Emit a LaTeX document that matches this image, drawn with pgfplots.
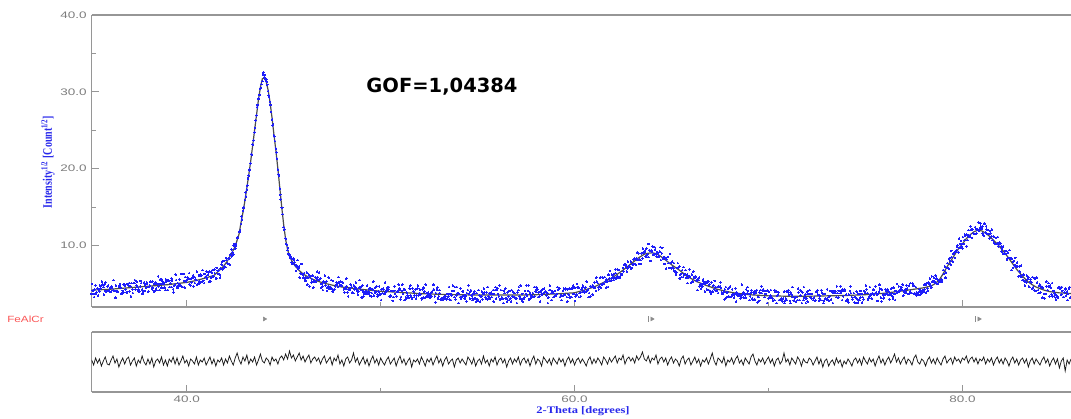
\documentclass[border=0pt]{standalone}
\usepackage{pgfplots}
\pgfplotsset{compat=1.18}
\usepackage{fontspec}
\setmainfont{Liberation Serif}
\newfontfamily\arial{Liberation Sans}
\newfontfamily\dejavu{DejaVu Sans}
\definecolor{dotblue}{RGB}{30,30,250}
\definecolor{axgray}{RGB}{150,150,150}
\definecolor{tickgray}{RGB}{125,125,125}
\definecolor{lblblue}{RGB}{40,40,235}
\definecolor{fered}{RGB}{250,85,85}
\pgfplotsset{
  xrdbase/.style={
    scale only axis, width=979.3pt,
    xmin=35.1, xmax=85.6,
    axis x line*=box, axis y line*=left,
    axis line style={axgray, line width=1.1pt},
    tick style={axgray, line width=0.9pt},
    tick align=inside, xtick pos=left, ytick pos=left,
    major tick length=7pt, minor tick length=4.5pt,
    xtick={40,60,80}, minor xtick={50,70},
    ticklabel style={font=\arial\fontsize{9.5}{11}\selectfont, text=tickgray, xscale=1.42},
    /pgf/number format/fixed, /pgf/number format/zerofill,
    /pgf/number format/precision=1, /pgf/number format/assume math mode=true,
  },
  dots/.style={color=dotblue, only marks, mark=*, mark size=0.8pt, mark options={solid, draw=dotblue, fill=dotblue, line width=0pt}},
}
\begin{document}
\begin{tikzpicture}
\path[use as bounding box] (0pt,0pt) rectangle (1071pt,-419pt);
\begin{axis}[xrdbase,
  at={(91.7pt,-15pt)}, anchor=north west, height=292pt,
  ymin=2, ymax=40, clip=false,
  xticklabel=\empty,
  ytick={10,20,30,40}, minor ytick={15,25,35},
]
% observed points (offset set)
\addplot[dots] table {
35.125 5.0
35.225 3.3
35.325 3.7
35.425 3.5
35.525 4.8
35.625 5.3
35.725 3.6
35.825 5.2
35.925 4.7
36.025 4.0
36.125 4.7
36.225 5.5
36.325 3.2
36.425 4.0
36.525 4.8
36.625 3.7
36.725 3.9
36.825 4.8
36.925 3.9
37.025 5.1
37.125 3.4
37.225 3.8
37.325 5.5
37.425 5.3
37.525 4.3
37.625 5.4
37.725 3.7
37.825 4.1
37.925 5.0
38.025 4.0
38.125 5.3
38.225 5.3
38.325 4.0
38.425 4.4
38.525 6.0
38.625 5.6
38.725 5.6
38.825 5.2
38.925 5.6
39.025 4.2
39.125 4.6
39.225 5.7
39.325 3.9
39.425 6.2
39.525 4.5
39.625 5.6
39.725 6.3
39.825 6.3
39.925 5.9
40.025 5.6
40.125 6.4
40.225 5.7
40.325 6.1
40.425 5.1
40.525 6.6
40.625 6.1
40.725 6.2
40.825 6.8
40.925 6.3
41.025 6.6
41.125 6.5
41.225 5.3
41.325 6.8
41.425 6.9
41.525 5.7
41.625 6.3
41.725 5.8
41.825 7.9
41.925 8.0
42.025 8.4
42.125 7.6
42.225 7.5
42.325 8.6
42.425 10.0
42.525 9.9
42.625 11.1
42.725 11.8
42.825 13.8
42.925 14.9
43.025 16.9
43.125 17.8
43.225 19.9
43.325 21.9
43.425 23.1
43.525 25.3
43.625 28.0
43.725 29.1
43.825 30.5
43.925 32.2
44.025 32.2
44.125 31.3
44.225 29.5
44.325 28.3
44.425 25.6
44.525 24.2
44.625 22.1
44.725 19.3
44.825 16.6
44.925 14.9
45.025 12.1
45.125 10.2
45.225 9.7
45.325 8.4
45.425 8.3
45.525 8.2
45.625 6.7
45.725 8.1
45.825 5.8
45.925 7.6
46.025 5.8
46.125 5.4
46.225 4.9
46.325 4.7
46.425 5.2
46.525 4.5
46.625 5.9
46.725 6.6
46.825 6.5
46.925 4.5
47.025 4.2
47.125 6.1
47.225 4.1
47.325 5.8
47.425 4.6
47.525 4.0
47.625 4.3
47.725 5.2
47.825 5.9
47.925 5.3
48.025 5.2
48.125 3.9
48.225 5.7
48.325 3.4
48.425 4.2
48.525 3.9
48.625 4.8
48.725 5.2
48.825 3.6
48.925 5.5
49.025 3.2
49.125 3.4
49.225 3.7
49.325 3.7
49.425 3.9
49.525 3.4
49.625 5.3
49.725 4.5
49.825 3.4
49.925 4.7
50.025 2.9
50.125 4.4
50.225 5.2
50.325 4.4
50.425 4.6
50.525 3.5
50.625 2.8
50.725 4.7
50.825 3.4
50.925 4.9
51.025 3.0
51.125 4.9
51.225 2.9
51.325 3.1
51.425 3.3
51.525 4.8
51.625 3.1
51.725 3.3
51.825 3.1
51.925 4.8
52.025 4.3
52.125 3.0
52.225 4.5
52.325 4.9
52.425 3.4
52.525 3.2
52.625 3.4
52.725 4.9
52.825 2.6
52.925 4.5
53.025 4.2
53.125 3.1
53.225 2.9
53.325 3.1
53.425 3.1
53.525 4.6
53.625 2.9
53.725 4.8
53.825 4.6
53.925 4.6
54.025 2.5
54.125 4.4
54.225 4.0
54.325 3.1
54.425 2.7
54.525 4.8
54.625 4.0
54.725 2.9
54.825 4.0
54.925 2.7
55.025 2.8
55.125 2.7
55.225 4.0
55.325 4.4
55.425 3.1
55.525 4.6
55.625 3.1
55.725 3.3
55.825 2.7
55.925 4.6
56.025 4.4
56.125 4.8
56.225 3.1
56.325 2.5
56.425 4.4
56.525 2.7
56.625 2.9
56.725 2.7
56.825 4.0
56.925 3.3
57.025 2.5
57.125 4.6
57.225 4.8
57.325 2.7
57.425 3.3
57.525 4.8
57.625 4.8
57.725 3.1
57.825 3.3
57.925 4.6
58.025 4.6
58.125 3.3
58.225 2.7
58.325 4.2
58.425 4.4
58.525 4.0
58.625 2.5
58.725 4.8
58.825 2.9
58.925 3.3
59.025 3.5
59.125 4.6
59.225 4.4
59.325 2.9
59.425 3.5
59.525 4.4
59.625 2.7
59.725 4.4
59.825 4.4
59.925 4.8
60.025 2.8
60.125 5.0
60.225 3.3
60.325 3.4
60.425 4.8
60.525 3.9
60.625 5.3
60.725 3.3
60.825 3.4
60.925 3.6
61.025 5.2
61.125 5.8
61.225 4.6
61.325 5.8
61.425 5.9
61.525 5.0
61.625 4.5
61.725 4.6
61.825 6.7
61.925 6.2
62.025 5.5
62.125 6.9
62.225 6.0
62.325 5.8
62.425 6.2
62.525 6.6
62.625 7.5
62.725 7.0
62.825 7.2
62.925 7.0
63.025 7.6
63.125 7.6
63.225 9.1
63.325 7.6
63.425 7.6
63.525 9.6
63.625 9.3
63.725 8.5
63.825 10.2
63.925 8.0
64.025 9.9
64.125 9.8
64.225 8.6
64.325 8.5
64.425 9.8
64.525 9.7
64.625 7.6
64.725 7.0
64.825 8.5
64.925 8.9
65.025 7.9
65.125 7.7
65.225 6.2
65.325 7.7
65.425 5.7
65.525 5.9
65.625 7.2
65.725 6.8
65.825 5.1
65.925 6.9
66.025 5.2
66.125 6.6
66.225 6.0
66.325 4.2
66.425 5.8
66.525 4.4
66.625 5.6
66.725 4.0
66.825 4.3
66.925 4.2
67.025 3.7
67.125 4.0
67.225 5.4
67.325 4.1
67.425 4.7
67.525 5.2
67.625 3.7
67.725 3.0
67.825 3.2
67.925 4.4
68.025 4.7
68.125 4.3
68.225 3.2
68.325 2.7
68.425 3.5
68.525 3.5
68.625 4.9
68.725 3.2
68.825 3.2
68.925 4.6
69.025 2.9
69.125 4.2
69.225 3.9
69.325 4.1
69.425 2.6
69.525 2.8
69.625 4.7
69.725 4.3
69.825 4.1
69.925 2.5
70.025 4.0
70.125 4.2
70.225 2.9
70.325 4.2
70.425 2.5
70.525 3.9
70.625 2.9
70.725 2.7
70.825 2.5
70.925 4.0
71.025 4.2
71.125 2.5
71.225 4.6
71.325 2.9
71.425 2.7
71.525 4.4
71.625 4.2
71.725 2.5
71.825 4.6
71.925 2.5
72.025 2.7
72.125 4.2
72.225 3.1
72.325 3.1
72.425 2.9
72.525 4.2
72.625 3.1
72.725 4.2
72.825 2.5
72.925 3.1
73.025 4.3
73.125 2.8
73.225 3.0
73.325 2.5
73.425 4.1
73.525 4.7
73.625 4.1
73.725 4.7
73.825 4.3
73.925 4.3
74.025 2.8
74.125 2.6
74.225 4.7
74.325 3.0
74.425 2.6
74.525 2.5
74.625 2.6
74.725 3.2
74.825 2.6
74.925 4.1
75.025 4.8
75.125 2.9
75.225 4.6
75.325 3.1
75.425 4.2
75.525 4.7
75.625 2.8
75.725 4.9
75.825 2.7
75.925 3.1
76.025 4.3
76.125 4.3
76.225 3.0
76.325 4.4
76.425 3.1
76.525 2.9
76.625 5.0
76.725 4.7
76.825 4.5
76.925 4.9
77.025 3.9
77.125 4.8
77.225 3.7
77.325 5.1
77.425 5.1
77.525 3.7
77.625 3.5
77.725 3.6
77.825 3.6
77.925 3.8
78.025 4.9
78.125 3.9
78.225 4.1
78.325 5.7
78.425 6.0
78.525 5.8
78.625 6.1
78.725 5.0
78.825 5.3
78.925 5.3
79.025 6.8
79.125 5.8
79.225 7.7
79.325 8.3
79.425 9.3
79.525 8.9
79.625 8.4
79.725 9.9
79.825 10.9
79.925 10.6
80.025 11.1
80.125 11.4
80.225 9.9
80.325 12.0
80.425 12.5
80.525 12.1
80.625 11.5
80.725 11.6
80.825 13.0
80.925 12.9
81.025 12.5
81.125 12.9
81.225 12.5
81.325 12.0
81.425 11.9
81.525 12.1
81.625 10.4
81.725 11.0
81.825 11.1
81.925 10.4
82.025 9.2
82.125 8.9
82.225 9.3
82.325 8.3
82.425 9.4
82.525 6.8
82.625 7.9
82.725 8.4
82.825 7.8
82.925 7.3
83.025 7.4
83.125 5.5
83.225 4.8
83.325 6.1
83.425 4.7
83.525 5.6
83.625 5.9
83.725 5.7
83.825 5.8
83.925 3.8
84.025 3.9
84.125 3.2
84.225 3.1
84.325 5.3
84.425 5.1
84.525 4.8
84.625 5.1
84.725 3.4
84.825 3.0
84.925 3.2
85.025 4.6
85.125 4.6
85.225 3.3
85.325 4.4
85.425 2.9
85.525 4.6
};
% observed points (main set)
\addplot[dots] table {
35.10 3.7
35.15 4.1
35.20 3.7
35.25 4.3
35.30 4.8
35.35 3.9
35.40 4.4
35.45 4.3
35.50 4.0
35.55 4.4
35.60 4.8
35.65 4.9
35.70 4.6
35.75 4.9
35.80 4.1
35.85 4.0
35.90 4.1
35.95 4.8
36.00 4.2
36.05 4.5
36.10 4.0
36.15 4.5
36.20 4.2
36.25 4.1
36.30 4.1
36.35 4.8
36.40 4.1
36.45 4.0
36.50 4.7
36.55 5.0
36.60 4.5
36.65 3.8
36.70 4.1
36.75 4.9
36.80 4.9
36.85 4.3
36.90 3.9
36.95 5.0
37.00 4.8
37.05 4.0
37.10 4.7
37.15 5.1
37.20 4.3
37.25 5.1
37.30 5.1
37.35 4.3
37.40 4.8
37.45 4.6
37.50 4.1
37.55 4.0
37.60 4.7
37.65 5.1
37.70 4.3
37.75 4.0
37.80 5.2
37.85 4.9
37.90 4.5
37.95 5.2
38.00 4.6
38.05 4.6
38.10 4.8
38.15 5.3
38.20 4.4
38.25 4.5
38.30 4.1
38.35 5.0
38.40 5.2
38.45 4.2
38.50 5.0
38.55 4.7
38.60 4.2
38.65 5.0
38.70 4.5
38.75 5.3
38.80 5.0
38.85 4.5
38.90 4.2
38.95 5.3
39.00 5.5
39.05 5.5
39.10 5.4
39.15 5.1
39.20 4.6
39.25 5.4
39.30 4.3
39.35 4.8
39.40 4.9
39.45 5.5
39.50 4.7
39.55 5.1
39.60 4.8
39.65 4.9
39.70 4.8
39.75 4.6
39.80 4.6
39.85 5.4
39.90 4.5
39.95 5.3
40.00 5.5
40.05 5.8
40.10 5.7
40.15 4.9
40.20 4.8
40.25 5.2
40.30 5.8
40.35 4.7
40.40 5.9
40.45 5.6
40.50 5.5
40.55 4.9
40.60 5.0
40.65 5.3
40.70 5.2
40.75 6.1
40.80 5.3
40.85 5.4
40.90 5.1
40.95 5.9
41.00 6.0
41.05 5.7
41.10 6.2
41.15 5.3
41.20 6.6
41.25 5.8
41.30 6.5
41.35 6.0
41.40 6.0
41.45 6.4
41.50 5.7
41.55 7.1
41.60 6.7
41.65 6.8
41.70 6.2
41.75 7.0
41.80 7.5
41.85 6.9
41.90 7.0
41.95 7.3
42.00 7.2
42.05 8.1
42.10 7.7
42.15 8.3
42.20 8.3
42.25 8.8
42.30 9.5
42.35 9.1
42.40 8.8
42.45 10.2
42.50 9.6
42.55 10.1
42.60 11.0
42.65 11.0
42.70 11.8
42.75 12.0
42.80 12.8
42.85 13.4
42.90 14.5
42.95 15.0
43.00 15.9
43.05 16.4
43.10 17.3
43.15 18.7
43.20 19.1
43.25 19.8
43.30 20.7
43.35 21.8
43.40 23.2
43.45 23.7
43.50 24.7
43.55 26.3
43.60 26.9
43.65 28.3
43.70 29.1
43.75 29.6
43.80 30.4
43.85 31.0
43.90 31.4
43.95 32.5
44.00 31.9
44.05 31.7
44.10 31.6
44.15 30.9
44.20 30.1
44.25 29.3
44.30 28.7
44.35 27.4
44.40 26.4
44.45 25.8
44.50 24.3
44.55 23.6
44.60 22.6
44.65 21.3
44.70 19.9
44.75 19.1
44.80 17.4
44.85 16.0
44.90 14.9
44.95 14.1
45.00 12.4
45.05 12.1
45.10 10.9
45.15 10.1
45.20 9.4
45.25 8.9
45.30 8.8
45.35 8.6
45.40 7.8
45.45 7.6
45.50 8.3
45.55 7.8
45.60 7.4
45.65 7.4
45.70 7.2
45.75 7.0
45.80 7.3
45.85 6.4
45.90 6.3
45.95 6.3
46.00 6.2
46.05 6.4
46.10 5.7
46.15 5.8
46.20 6.5
46.25 5.8
46.30 6.2
46.35 5.9
46.40 6.0
46.45 5.6
46.50 6.1
46.55 5.3
46.60 5.3
46.65 5.3
46.70 5.7
46.75 5.9
46.80 5.5
46.85 5.6
46.90 5.7
46.95 5.0
47.00 4.7
47.05 5.3
47.10 5.2
47.15 4.8
47.20 5.3
47.25 4.5
47.30 4.7
47.35 4.4
47.40 4.4
47.45 5.5
47.50 4.3
47.55 5.4
47.60 4.3
47.65 4.7
47.70 4.9
47.75 4.9
47.80 4.6
47.85 5.2
47.90 4.8
47.95 4.8
48.00 4.8
48.05 5.2
48.10 4.3
48.15 4.4
48.20 4.4
48.25 4.7
48.30 3.9
48.35 4.3
48.40 4.4
48.45 4.9
48.50 4.6
48.55 3.9
48.60 3.8
48.65 4.3
48.70 4.5
48.75 4.3
48.80 4.1
48.85 4.0
48.90 4.5
48.95 4.5
49.00 4.2
49.05 4.8
49.10 4.0
49.15 3.7
49.20 4.0
49.25 4.0
49.30 4.8
49.35 4.0
49.40 4.4
49.45 3.5
49.50 4.4
49.55 3.8
49.60 4.3
49.65 3.5
49.70 3.8
49.75 4.0
49.80 4.7
49.85 3.6
49.90 4.0
49.95 3.6
50.00 3.7
50.05 4.3
50.10 3.8
50.15 4.3
50.20 3.7
50.25 3.9
50.30 4.1
50.35 4.5
50.40 4.3
50.45 3.4
50.50 3.4
50.55 4.1
50.60 4.1
50.65 3.3
50.70 4.1
50.75 3.7
50.80 3.4
50.85 4.0
50.90 4.0
50.95 4.4
51.00 4.3
51.05 3.3
51.10 4.1
51.15 3.7
51.20 4.3
51.25 4.3
51.30 3.3
51.35 3.9
51.40 3.5
51.45 3.2
51.50 4.4
51.55 3.5
51.60 3.2
51.65 4.4
51.70 4.0
51.75 3.5
51.80 4.3
51.85 3.5
51.90 4.4
51.95 3.5
52.00 3.8
52.05 3.6
52.10 3.1
52.15 4.3
52.20 3.2
52.25 4.0
52.30 3.2
52.35 3.8
52.40 3.5
52.45 3.9
52.50 3.6
52.55 3.5
52.60 3.9
52.65 4.0
52.70 4.2
52.75 4.3
52.80 3.4
52.85 3.8
52.90 4.3
52.95 3.1
53.00 3.4
53.05 3.8
53.10 3.0
53.15 3.0
53.20 3.1
53.25 3.1
53.30 3.4
53.35 3.4
53.40 3.0
53.45 3.7
53.50 3.4
53.55 3.0
53.60 3.7
53.65 3.5
53.70 4.1
53.75 4.1
53.80 3.3
53.85 3.0
53.90 3.5
53.95 3.8
54.00 3.8
54.05 3.7
54.10 3.3
54.15 3.1
54.20 3.4
54.25 4.1
54.30 3.5
54.35 3.1
54.40 3.5
54.45 3.8
54.50 4.2
54.55 3.7
54.60 3.1
54.65 4.2
54.70 3.5
54.75 3.1
54.80 3.7
54.85 3.1
54.90 3.1
54.95 3.8
55.00 3.0
55.05 4.2
55.10 3.5
55.15 3.4
55.20 3.4
55.25 3.0
55.30 3.7
55.35 3.9
55.40 3.3
55.45 3.9
55.50 3.0
55.55 3.4
55.60 3.8
55.65 3.7
55.70 3.9
55.75 3.7
55.80 4.2
55.85 3.7
55.90 4.2
55.95 3.1
56.00 4.2
56.05 3.7
56.10 3.4
56.15 3.0
56.20 4.2
56.25 3.3
56.30 3.1
56.35 4.1
56.40 3.8
56.45 3.1
56.50 3.1
56.55 3.9
56.60 3.4
56.65 4.1
56.70 3.1
56.75 4.2
56.80 3.4
56.85 3.3
56.90 3.8
56.95 3.1
57.00 3.1
57.05 3.9
57.10 4.2
57.15 3.4
57.20 3.1
57.25 3.0
57.30 3.7
57.35 3.1
57.40 3.1
57.45 4.1
57.50 3.7
57.55 3.5
57.60 4.1
57.65 3.0
57.70 3.9
57.75 3.5
57.80 3.5
57.85 3.8
57.90 3.3
57.95 3.4
58.00 4.0
58.05 4.3
58.10 4.3
58.15 3.9
58.20 3.4
58.25 4.0
58.30 3.6
58.35 4.3
58.40 3.8
58.45 3.9
58.50 4.0
58.55 3.5
58.60 3.8
58.65 3.2
58.70 4.2
58.75 4.2
58.80 3.8
58.85 4.0
58.90 3.8
58.95 3.4
59.00 4.1
59.05 3.5
59.10 3.7
59.15 4.3
59.20 4.4
59.25 3.3
59.30 3.5
59.35 3.5
59.40 4.1
59.45 4.4
59.50 3.6
59.55 4.3
59.60 3.3
59.65 4.3
59.70 3.6
59.75 3.2
59.80 3.3
59.85 3.3
59.90 4.4
59.95 3.7
60.00 4.5
60.05 3.4
60.10 3.6
60.15 4.6
60.20 4.5
60.25 3.8
60.30 3.9
60.35 4.3
60.40 4.5
60.45 4.0
60.50 4.0
60.55 4.5
60.60 4.0
60.65 4.2
60.70 4.3
60.75 3.8
60.80 4.7
60.85 4.6
60.90 4.7
60.95 4.8
61.00 4.5
61.05 4.5
61.10 4.1
61.15 5.3
61.20 5.1
61.25 4.3
61.30 4.7
61.35 4.5
61.40 4.9
61.45 5.8
61.50 5.1
61.55 5.9
61.60 5.3
61.65 5.6
61.70 5.3
61.75 6.2
61.80 5.7
61.85 5.4
61.90 5.5
61.95 5.8
62.00 6.2
62.05 5.8
62.10 6.4
62.15 5.7
62.20 6.9
62.25 5.8
62.30 6.8
62.35 6.0
62.40 6.3
62.45 6.2
62.50 7.1
62.55 7.5
62.60 7.5
62.65 7.3
62.70 6.6
62.75 7.9
62.80 7.3
62.85 7.3
62.90 7.9
62.95 7.1
63.00 7.5
63.05 8.2
63.10 8.3
63.15 7.5
63.20 8.3
63.25 8.1
63.30 9.0
63.35 8.2
63.40 8.1
63.45 9.0
63.50 8.3
63.55 9.1
63.60 9.1
63.65 8.6
63.70 9.6
63.75 8.8
63.80 8.5
63.85 9.4
63.90 9.3
63.95 9.4
64.00 9.2
64.05 8.8
64.10 8.8
64.15 9.5
64.20 8.9
64.25 9.1
64.30 9.1
64.35 8.7
64.40 9.2
64.45 8.1
64.50 9.0
64.55 8.3
64.60 8.5
64.65 8.5
64.70 8.3
64.75 8.2
64.80 8.5
64.85 7.7
64.90 7.1
64.95 7.7
65.00 7.0
65.05 7.2
65.10 7.0
65.15 6.7
65.20 6.6
65.25 6.5
65.30 7.1
65.35 7.1
65.40 7.3
65.45 6.2
65.50 6.3
65.55 6.8
65.60 5.9
65.65 6.2
65.70 6.3
65.75 5.8
65.80 6.2
65.85 5.8
65.90 6.0
65.95 6.0
66.00 5.1
66.05 6.2
66.10 5.3
66.15 5.8
66.20 5.8
66.25 5.9
66.30 5.4
66.35 5.6
66.40 5.5
66.45 4.7
66.50 4.9
66.55 5.0
66.60 4.7
66.65 5.3
66.70 5.0
66.75 5.2
66.80 5.1
66.85 5.3
66.90 5.3
66.95 4.9
67.00 4.0
67.05 5.2
67.10 4.0
67.15 4.8
67.20 4.3
67.25 4.6
67.30 4.2
67.35 4.6
67.40 3.8
67.45 4.6
67.50 4.7
67.55 4.5
67.60 3.9
67.65 3.7
67.70 4.0
67.75 4.3
67.80 4.6
67.85 3.9
67.90 3.9
67.95 3.4
68.00 4.6
68.05 3.3
68.10 3.4
68.15 3.6
68.20 3.6
68.25 3.7
68.30 4.4
68.35 3.9
68.40 3.6
68.45 3.7
68.50 3.6
68.55 3.1
68.60 3.2
68.65 3.6
68.70 3.9
68.75 3.8
68.80 3.6
68.85 4.3
68.90 3.8
68.95 4.1
69.00 3.7
69.05 3.4
69.10 3.9
69.15 3.1
69.20 3.0
69.25 3.7
69.30 3.0
69.35 3.9
69.40 4.2
69.45 3.3
69.50 3.3
69.55 3.9
69.60 4.2
69.65 3.8
69.70 4.1
69.75 4.2
69.80 3.3
69.85 3.7
69.90 4.1
69.95 4.2
70.00 3.1
70.05 3.2
70.10 3.5
70.15 3.3
70.20 3.1
70.25 2.8
70.30 2.9
70.35 4.0
70.40 4.0
70.45 3.5
70.50 3.6
70.55 2.9
70.60 2.9
70.65 3.1
70.70 2.9
70.75 3.1
70.80 4.0
70.85 2.8
70.90 3.1
70.95 2.9
71.00 4.0
71.05 3.6
71.10 2.8
71.15 3.9
71.20 3.6
71.25 3.3
71.30 2.8
71.35 3.2
71.40 3.3
71.45 3.3
71.50 2.9
71.55 3.9
71.60 2.9
71.65 3.5
71.70 4.0
71.75 3.9
71.80 2.9
71.85 3.2
71.90 3.6
71.95 3.1
72.00 4.0
72.05 3.7
72.10 3.7
72.15 3.3
72.20 3.7
72.25 3.7
72.30 2.9
72.35 3.2
72.40 2.8
72.45 4.0
72.50 4.0
72.55 3.6
72.60 2.8
72.65 3.5
72.70 2.9
72.75 3.9
72.80 3.7
72.85 2.8
72.90 3.7
72.95 3.1
73.00 3.0
73.05 3.0
73.10 3.3
73.15 3.4
73.20 4.1
73.25 4.1
73.30 3.9
73.35 4.1
73.40 3.8
73.45 4.0
73.50 3.3
73.55 3.8
73.60 3.2
73.65 4.1
73.70 3.8
73.75 4.0
73.80 2.9
73.85 3.4
73.90 4.1
73.95 4.1
74.00 3.6
74.05 3.0
74.10 2.9
74.15 3.6
74.20 4.1
74.25 3.8
74.30 3.3
74.35 3.0
74.40 3.8
74.45 3.3
74.50 3.2
74.55 4.0
74.60 3.0
74.65 3.7
74.70 2.9
74.75 4.1
74.80 3.7
74.85 3.3
74.90 3.0
74.95 4.0
75.00 3.8
75.05 4.3
75.10 3.8
75.15 3.1
75.20 3.4
75.25 3.6
75.30 3.6
75.35 3.8
75.40 4.3
75.45 3.6
75.50 3.8
75.55 3.9
75.60 3.6
75.65 3.7
75.70 4.0
75.75 4.4
75.80 3.2
75.85 4.3
75.90 3.6
75.95 3.2
76.00 3.6
76.05 4.1
76.10 3.8
76.15 3.6
76.20 4.0
76.25 3.6
76.30 3.6
76.35 3.8
76.40 3.4
76.45 4.5
76.50 3.7
76.55 4.1
76.60 3.8
76.65 3.9
76.70 4.0
76.75 4.0
76.80 4.3
76.85 4.6
76.90 4.2
76.95 3.5
77.00 4.0
77.05 4.3
77.10 3.9
77.15 4.4
77.20 3.7
77.25 4.8
77.30 4.0
77.35 3.8
77.40 3.8
77.45 4.8
77.50 4.8
77.55 3.8
77.60 4.6
77.65 3.9
77.70 3.8
77.75 3.9
77.80 4.3
77.85 4.0
77.90 3.8
77.95 4.2
78.00 4.0
78.05 4.3
78.10 4.9
78.15 5.1
78.20 4.4
78.25 5.2
78.30 5.0
78.35 4.8
78.40 4.5
78.45 5.3
78.50 5.4
78.55 5.2
78.60 5.2
78.65 5.7
78.70 5.6
78.75 5.5
78.80 5.3
78.85 5.5
78.90 5.6
78.95 5.5
79.00 6.8
79.05 6.3
79.10 7.3
79.15 6.5
79.20 7.1
79.25 7.1
79.30 7.0
79.35 8.0
79.40 7.5
79.45 8.5
79.50 7.9
79.55 8.9
79.60 9.1
79.65 9.2
79.70 9.4
79.75 10.0
79.80 9.1
79.85 9.7
79.90 10.2
79.95 9.9
80.00 9.6
80.05 10.2
80.10 10.7
80.15 11.3
80.20 11.4
80.25 10.7
80.30 11.3
80.35 11.1
80.40 11.3
80.45 12.1
80.50 11.0
80.55 11.6
80.60 11.5
80.65 12.4
80.70 12.2
80.75 12.1
80.80 12.1
80.85 11.9
80.90 12.2
80.95 12.5
81.00 12.2
81.05 11.6
81.10 11.3
81.15 12.8
81.20 11.7
81.25 12.1
81.30 11.5
81.35 11.5
81.40 10.9
81.45 11.6
81.50 11.2
81.55 10.7
81.60 11.2
81.65 11.1
81.70 10.2
81.75 10.2
81.80 10.3
81.85 9.9
81.90 10.2
81.95 10.3
82.00 9.9
82.05 9.6
82.10 9.9
82.15 9.0
82.20 9.3
82.25 8.9
82.30 8.2
82.35 9.1
82.40 8.4
82.45 8.4
82.50 8.3
82.55 8.3
82.60 7.1
82.65 8.0
82.70 7.4
82.75 7.4
82.80 7.2
82.85 7.3
82.90 6.0
82.95 6.6
83.00 6.1
83.05 5.9
83.10 5.5
83.15 6.2
83.20 5.3
83.25 5.3
83.30 5.2
83.35 5.6
83.40 5.8
83.45 4.6
83.50 5.3
83.55 5.2
83.60 4.4
83.65 4.6
83.70 4.2
83.75 4.1
83.80 4.1
83.85 5.2
83.90 4.2
83.95 4.8
84.00 4.9
84.05 4.7
84.10 4.5
84.15 4.5
84.20 3.7
84.25 3.7
84.30 3.7
84.35 4.7
84.40 4.2
84.45 4.7
84.50 3.4
84.55 4.5
84.60 3.6
84.65 3.4
84.70 4.1
84.75 3.8
84.80 3.6
84.85 3.3
84.90 3.4
84.95 4.5
85.00 4.4
85.05 4.4
85.10 3.6
85.15 4.1
85.20 3.3
85.25 3.9
85.30 4.3
85.35 3.5
85.40 4.0
85.45 3.7
85.50 4.4
85.55 3.2
};
% fitted profile
\addplot[black!70, line width=1.2pt] table {
35.1 4.2
36 4.3
37 4.5
38 4.7
39 4.9
40 5.2
40.5 5.45
41 5.8
41.4 6.1
41.7 6.8
41.9 7.3
42.1 8.0
42.3 8.9
42.5 9.9
42.6 10.7
42.7 11.5
42.8 13.0
42.9 14.3
43.0 15.8
43.1 17.5
43.2 19.2
43.3 21.0
43.4 23.0
43.5 25.0
43.6 27.0
43.7 29.0
43.8 30.6
43.9 31.7
44.0 31.8
44.1 31.3
44.2 30.2
44.3 28.6
44.4 26.6
44.5 24.4
44.6 22.3
44.7 20.0
44.8 17.5
44.9 15.0
45.0 12.7
45.1 10.8
45.2 9.5
45.3 8.6
45.4 8.1
45.6 7.3
45.8 6.75
46.0 6.3
46.3 5.85
46.6 5.5
47.0 5.15
47.5 4.85
48 4.6
49 4.3
50 4.05
51 3.9
52 3.75
53 3.65
54 3.6
55 3.55
57 3.55
58 3.6
59 3.7
60 3.85
60.5 4.2
61 4.6
61.5 5.2
62 5.9
62.5 6.8
63 7.8
63.3 8.4
63.6 8.87
63.8 9.0
64.0 9.05
64.2 8.95
64.4 8.67
64.7 8.1
65.0 7.5
65.4 6.8
65.8 6.0
66.3 5.3
66.8 4.8
67.3 4.35
67.8 4.05
68.2 3.85
69 3.6
70 3.45
71 3.4
72 3.4
73 3.45
74 3.5
75 3.6
76 3.8
77 4.12
78 4.5
78.4 4.75
78.6 5.05
78.8 5.5
79.0 6.3
79.2 7.2
79.4 8.0
79.6 8.8
79.8 9.6
80.0 10.2
80.2 10.9
80.4 11.4
80.6 11.8
80.8 12.0
81.0 11.9
81.2 11.6
81.4 11.2
81.6 10.7
81.8 10.2
82.0 9.6
82.2 9.0
82.4 8.3
82.6 7.6
82.8 6.9
83.0 6.3
83.2 5.75
83.4 5.25
83.6 4.9
83.8 4.6
84.0 4.4
84.2 4.2
84.5 4.0
85.0 3.84
85.6 3.75
};
\addplot[only marks, mark=triangle*, mark size=2.3pt, mark options={rotate=-90, fill=black!45, draw=black!45}] coordinates {(44.01,0.44) (63.99,0.44) (80.86,0.44)};
\addplot[only marks, mark=|, mark size=2.6pt, mark options={draw=black!45, line width=0.8pt}] coordinates {(63.79,0.44) (80.66,0.44)};
\end{axis}
\begin{axis}[xrdbase,
  at={(91.7pt,-332pt)}, anchor=north west, height=60pt,
  ymin=-3, ymax=3, ytick=\empty,
]
\addplot[black!90, line width=0.75pt] table {
35.1 0.2
35.2 -0.3
35.3 0.4
35.4 -0.1
35.5 0.3
35.6 -0.4
35.7 0.1
35.8 0.5
35.9 -0.2
36.0 -0.3
36.1 0.2
36.2 0.6
36.3 -0.1
36.4 0.3
36.5 -0.5
36.6 0.0
36.7 0.4
36.8 -0.2
36.9 0.3
37.0 0.5
37.1 -0.3
37.2 0.1
37.3 0.4
37.4 -0.4
37.5 0.2
37.6 -0.1
37.7 0.6
37.8 0.0
37.9 -0.3
38.0 0.3
38.1 -0.2
38.2 0.4
38.3 -0.5
38.4 0.1
38.5 0.3
38.6 -0.1
38.7 0.5
38.8 -0.3
38.9 0.2
39.0 -0.4
39.1 0.3
39.2 0.0
39.3 0.5
39.4 -0.2
39.5 0.4
39.6 -0.3
39.7 0.1
39.8 0.6
39.9 -0.1
40.0 0.2
40.1 -0.4
40.2 0.3
40.3 0.1
40.4 -0.2
40.5 0.5
40.6 -0.3
40.7 0.2
40.8 0.0
40.9 0.4
41.0 -0.3
41.1 0.1
41.2 0.5
41.3 -0.2
41.4 0.3
41.5 -0.4
41.6 0.2
41.7 0.0
41.8 0.4
41.9 -0.3
42.0 0.3
42.1 -0.1
42.2 0.6
42.3 0.1
42.4 -0.3
42.5 0.4
42.6 0.9
42.7 0.2
42.8 -0.2
42.9 0.5
43.0 0.1
43.1 0.7
43.2 -0.2
43.3 0.3
43.4 0.0
43.5 0.5
43.6 -0.3
43.7 0.2
43.8 0.8
43.9 0.1
44.0 -0.1
44.1 0.4
44.2 0.2
44.3 -0.3
44.4 0.5
44.5 0.1
44.6 0.3
44.7 -0.2
44.8 0.4
44.9 0.6
45.0 0.2
45.1 0.8
45.2 0.3
45.3 1.1
45.4 0.4
45.5 0.7
45.6 0.1
45.7 0.5
45.8 0.9
45.9 0.2
46.0 0.6
46.1 0.0
46.2 0.4
46.3 0.7
46.4 -0.1
46.5 0.3
46.6 0.5
46.7 0.1
46.8 0.4
46.9 -0.2
47.0 0.3
47.1 0.6
47.2 -0.1
47.3 0.2
47.4 0.5
47.5 -0.3
47.6 0.4
47.7 0.1
47.8 0.7
47.9 -0.2
48.0 0.2
48.1 -0.4
48.2 0.3
48.3 0.5
48.4 -0.1
48.5 0.2
48.6 0.9
48.7 0.0
48.8 0.4
48.9 -0.3
49.0 0.1
49.1 0.5
49.2 -0.2
49.3 0.3
49.4 -0.4
49.5 0.2
49.6 0.6
49.7 -0.1
49.8 0.3
49.9 -0.3
50.0 0.4
50.1 0.0
50.2 -0.3
50.3 0.2
50.4 0.5
50.5 -0.2
50.6 0.1
50.7 0.4
50.8 -0.4
50.9 0.2
51.0 0.6
51.1 -0.1
51.2 0.3
51.3 -0.3
51.4 0.1
51.5 0.4
51.6 -0.5
51.7 0.2
51.8 0.0
51.9 0.3
52.0 -0.2
52.1 0.5
52.2 0.1
52.3 -0.4
52.4 0.3
52.5 0.0
52.6 0.4
52.7 -0.3
52.8 0.2
52.9 0.6
53.0 -0.1
53.1 0.3
53.2 -0.4
53.3 0.2
53.4 0.5
53.5 -0.2
53.6 0.1
53.7 0.3
53.8 -0.5
53.9 0.2
54.0 0.4
54.1 -0.1
54.2 0.3
54.3 0.0
54.4 -0.3
54.5 0.5
54.6 0.2
54.7 -0.2
54.8 0.4
54.9 -0.4
55.0 0.1
55.1 0.3
55.2 -0.2
55.3 0.6
55.4 -0.1
55.5 0.2
55.6 -0.4
55.7 0.3
55.8 0.0
55.9 0.5
56.0 -0.3
56.1 0.2
56.2 0.4
56.3 -0.1
56.4 0.3
56.5 -0.5
56.6 0.1
56.7 0.4
56.8 -0.2
56.9 0.3
57.0 0.0
57.1 0.5
57.2 -0.3
57.3 0.2
57.4 0.4
57.5 -0.1
57.6 0.3
57.7 -0.4
57.8 0.2
57.9 0.6
58.0 -0.2
58.1 0.3
58.2 0.1
58.3 -0.4
58.4 0.5
58.5 0.2
58.6 -0.1
58.7 0.3
58.8 -0.3
58.9 0.4
59.0 0.1
59.1 -0.2
59.2 0.4
59.3 0.0
59.4 0.3
59.5 -0.4
59.6 0.2
59.7 0.5
59.8 -0.1
59.9 0.3
60.0 -0.3
60.1 0.2
60.2 0.4
60.3 -0.1
60.4 0.3
60.5 0.0
60.6 -0.4
60.7 0.2
60.8 0.5
60.9 -0.2
61.0 0.3
61.1 -0.1
61.2 0.4
61.3 0.1
61.4 -0.3
61.5 0.5
61.6 0.2
61.7 -0.2
61.8 0.4
61.9 0.0
62.0 0.3
62.1 0.6
62.2 -0.1
62.3 0.4
62.4 0.2
62.5 0.7
62.6 -0.2
62.7 0.3
62.8 0.5
62.9 0.1
63.0 0.4
63.1 -0.1
63.2 0.6
63.3 0.2
63.4 0.5
63.5 1.0
63.6 0.3
63.7 0.1
63.8 0.6
63.9 -0.1
64.0 0.4
64.1 0.2
64.2 0.7
64.3 -0.2
64.4 0.3
64.5 0.5
64.6 0.0
64.7 0.4
64.8 -0.3
64.9 0.2
65.0 0.5
65.1 -0.1
65.2 0.3
65.3 0.1
65.4 -0.4
65.5 0.3
65.6 0.6
65.7 -0.2
65.8 0.2
65.9 0.4
66.0 -0.3
66.1 0.1
66.2 0.5
66.3 -0.1
66.4 0.3
66.5 -0.4
66.6 0.2
66.7 0.0
66.8 0.4
66.9 -0.2
67.0 0.3
67.1 0.9
67.2 0.1
67.3 -0.3
67.4 0.4
67.5 0.2
67.6 -0.1
67.7 0.5
67.8 -0.4
67.9 0.2
68.0 0.0
68.1 0.4
68.2 -0.2
68.3 0.3
68.4 0.6
68.5 -0.1
68.6 0.2
68.7 -0.3
68.8 0.4
68.9 0.1
69.0 -0.2
69.1 0.5
69.2 0.8
69.3 0.1
69.4 -0.3
69.5 0.3
69.6 0.0
69.7 0.4
69.8 -0.2
69.9 0.2
70.0 0.5
70.1 -0.1
70.2 0.3
70.3 -0.4
70.4 0.2
70.5 0.4
70.6 -0.2
70.7 0.1
70.8 0.9
70.9 0.0
71.0 0.3
71.1 -0.3
71.2 0.4
71.3 0.1
71.4 -0.2
71.5 0.5
71.6 0.2
71.7 -0.4
71.8 0.3
71.9 0.0
72.0 -0.1
72.1 0.4
72.2 0.2
72.3 -0.3
72.4 0.1
72.5 0.5
72.6 -0.2
72.7 0.3
72.8 -0.5
72.9 0.1
73.0 0.3
73.1 -0.4
73.2 0.0
73.3 0.2
73.4 -0.3
73.5 0.4
73.6 -0.1
73.7 0.2
73.8 -0.5
73.9 0.1
74.0 -0.2
74.1 0.3
74.2 0.0
74.3 -0.4
74.4 0.2
74.5 0.4
74.6 -0.1
74.7 0.3
74.8 -0.3
74.9 0.5
75.0 0.1
75.1 -0.2
75.2 0.4
75.3 0.0
75.4 0.3
75.5 -0.4
75.6 0.2
75.7 0.6
75.8 -0.1
75.9 0.3
76.0 -0.3
76.1 0.2
76.2 0.5
76.3 -0.1
76.4 0.3
76.5 0.8
76.6 0.0
76.7 0.4
76.8 -0.2
76.9 0.2
77.0 0.5
77.1 -0.2
77.2 0.3
77.3 0.1
77.4 -0.3
77.5 0.4
77.6 0.7
77.7 0.0
77.8 -0.2
77.9 0.3
78.0 0.1
78.1 -0.4
78.2 0.2
78.3 0.5
78.4 -0.1
78.5 0.3
78.6 -0.2
78.7 0.4
78.8 0.0
78.9 -0.3
79.0 0.3
79.1 0.6
79.2 -0.1
79.3 0.2
79.4 0.4
79.5 -0.2
79.6 0.5
79.7 0.1
79.8 0.3
79.9 -0.1
80.0 0.4
80.1 0.2
80.2 0.6
80.3 -0.1
80.4 0.3
80.5 0.5
80.6 0.0
80.7 0.4
80.8 -0.2
80.9 0.3
81.0 0.1
81.1 0.5
81.2 -0.2
81.3 0.3
81.4 0.0
81.5 0.4
81.6 -0.3
81.7 0.2
81.8 0.5
81.9 -0.1
82.0 0.3
82.1 -0.2
82.2 0.4
82.3 0.1
82.4 -0.4
82.5 0.2
82.6 0.5
82.7 -0.1
82.8 0.3
82.9 -0.3
83.0 0.2
83.1 0.4
83.2 -0.1
83.3 0.3
83.4 -0.5
83.5 0.1
83.6 0.4
83.7 -0.2
83.8 0.3
83.9 0.0
84.0 -0.3
84.1 0.2
84.2 0.5
84.3 -0.1
84.4 0.3
84.5 -0.4
84.6 0.1
84.7 0.4
84.8 -0.2
84.9 0.3
85.0 -0.6
85.1 0.1
85.2 0.4
85.3 -0.9
85.4 0.2
85.5 -0.2
85.6 0.3
};
\end{axis}
\node[font=\dejavu\bfseries\fontsize{19.5}{22}\selectfont, anchor=base, inner sep=0pt] at (442pt,-92.7pt) {GOF=1,04384};
\node[xscale=1.3, rotate=90, font=\bfseries\fontsize{10}{12}\selectfont, text=lblblue, inner sep=0pt] at (48pt,-162pt) {Intensity\textsuperscript{1/2} [Count\textsuperscript{1/2}]};
\node[xscale=1.25, font=\bfseries\fontsize{10}{12}\selectfont, text=lblblue, inner sep=0pt] at (583pt,-411pt) {2-Theta [degrees]};
\node[xscale=1.3, font=\arial\fontsize{9}{11}\selectfont, text=fered, inner sep=0pt] at (25.5pt,-319pt) {FeAlCr};
\end{tikzpicture}
\end{document}
